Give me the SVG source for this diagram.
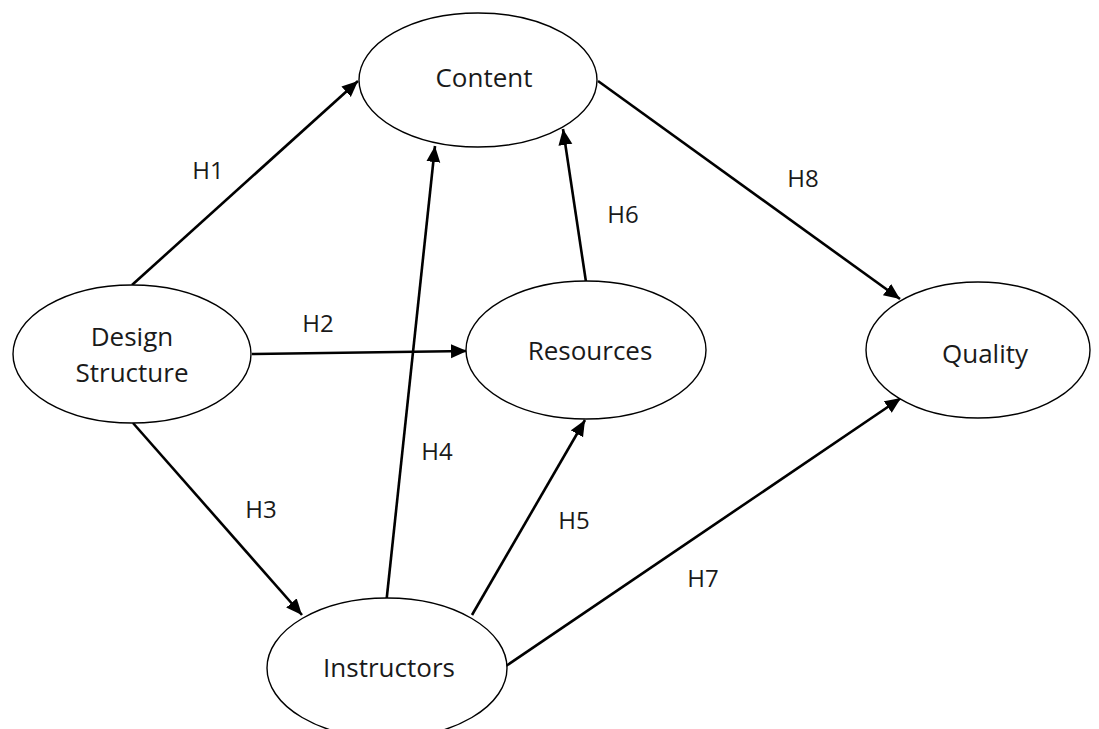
<svg xmlns="http://www.w3.org/2000/svg" width="1099" height="729" viewBox="0 0 1099 729">
<style>
.node ellipse{fill:#fff;stroke:#000;stroke-width:1.4}
.node text{font-family:"Open Sans","Noto Sans",sans-serif;font-size:26px;fill:#1a1a1a;text-anchor:middle}
.edge{stroke:#000;stroke-width:2.6;fill:none;marker-end:url(#arr)}
.lbl{font-family:"Open Sans","Noto Sans",sans-serif;font-size:24px;fill:#1a1a1a;text-anchor:middle}
</style>
<defs>
<marker id="arr" markerUnits="userSpaceOnUse" markerWidth="18" markerHeight="16" refX="16" refY="7" orient="auto">
<path d="M0,0 L16,7 L0,14 z" fill="#000"/>
</marker>
</defs>
<rect width="1099" height="729" fill="#fff"/>
<g id="connectors">
<line class="edge" x1="132" y1="285" x2="358" y2="81"/>
<line class="edge" x1="252" y1="354" x2="467" y2="351"/>
<line class="edge" x1="133" y1="423" x2="302" y2="615"/>
<line class="edge" x1="386" y1="605" x2="435" y2="146"/>
<line class="edge" x1="472" y1="615" x2="585" y2="420"/>
<line class="edge" x1="586" y1="282" x2="563" y2="129"/>
<line class="edge" x1="506" y1="666" x2="901" y2="398"/>
<line class="edge" x1="598" y1="81" x2="900" y2="299"/>
<text class="lbl" x="208" y="179">H1</text>
<text class="lbl" x="318" y="332">H2</text>
<text class="lbl" x="261" y="518">H3</text>
<text class="lbl" x="437" y="460">H4</text>
<text class="lbl" x="574" y="529">H5</text>
<text class="lbl" x="623" y="223">H6</text>
<text class="lbl" x="703" y="587">H7</text>
<text class="lbl" x="803" y="187">H8</text>
</g>
<g id="content" class="node">
<ellipse cx="478" cy="80" rx="119" ry="67"/>
<text x="484" y="87">Content</text>
</g>
<g id="design-structure" class="node">
<ellipse cx="132" cy="354" rx="119" ry="69"/>
<text x="132" y="346">Design</text>
<text x="132" y="382">Structure</text>
</g>
<g id="resources" class="node">
<ellipse cx="586" cy="350" rx="120" ry="69"/>
<text x="590" y="360">Resources</text>
</g>
<g id="quality" class="node">
<ellipse cx="978" cy="350" rx="112" ry="68"/>
<text x="985" y="363">Quality</text>
</g>
<g id="instructors" class="node">
<ellipse cx="387" cy="668" rx="120" ry="70"/>
<text x="389" y="677">Instructors</text>
</g>
</svg>
